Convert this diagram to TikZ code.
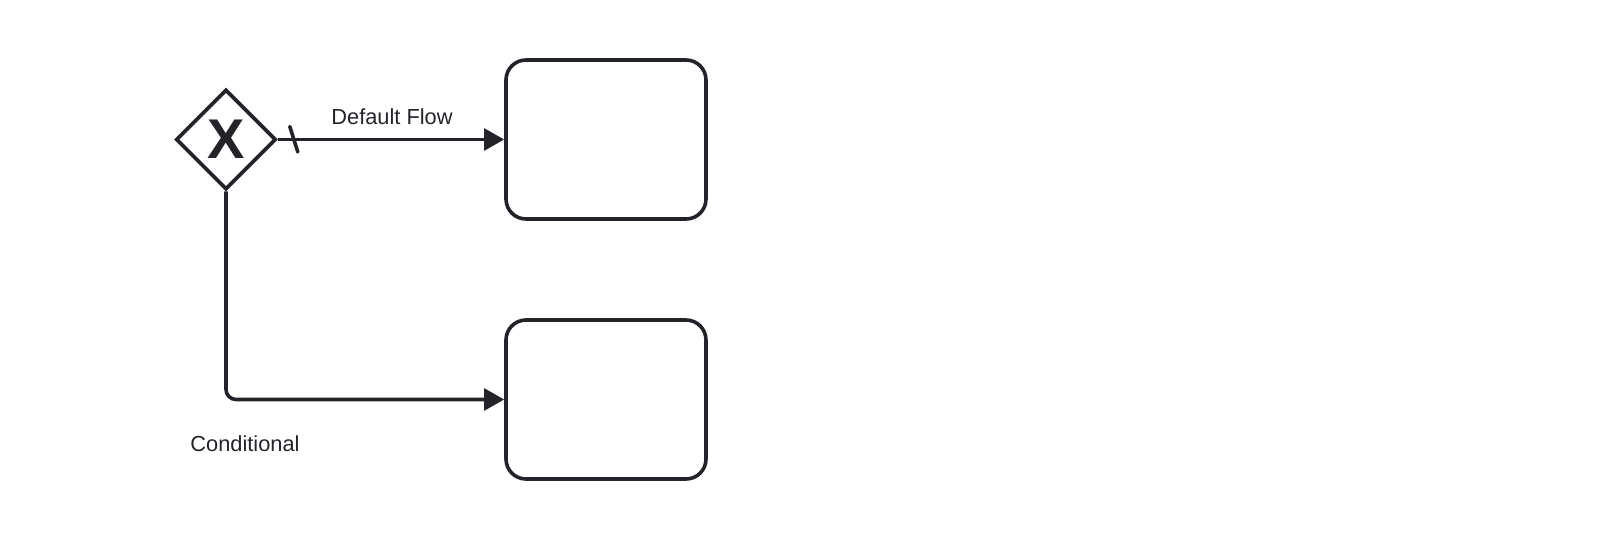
\documentclass[tikz,border=0pt]{standalone}
\usepackage{fontspec}
\setmainfont{Liberation Sans}
\usetikzlibrary{calc,arrows.meta,shapes.geometric}
\definecolor{ink}{HTML}{22242A}
\begin{document}
\begin{tikzpicture}[x=0.5pt,y=-0.5pt]
	\tikzset{
	    task box/.style={draw=ink,line width=1.8pt,rounded corners=10pt,
	        minimum width=100pt,minimum height=79.5pt,inner sep=0pt},
	    gateway/.style={draw=ink,line width=1.8pt,diamond,
	        minimum width=50pt,minimum height=50pt,inner sep=0pt},
	    flow/.style={draw=ink,line width=1.8pt,-{Triangle[length=10pt,width=10.8pt]}},
	    flow label/.style={text=ink,inner sep=0pt,font=\fontsize{10.9}{13}\selectfont}
	}
	\useasboundingbox (0,0) rectangle (1600,540);
	% gateway with its marker
	\node[gateway] (gw) at (226,139.5) {};
	\node[text=ink,inner sep=0pt,font=\fontsize{28}{28}\selectfont\bfseries] (gwx) at (gw) {X};
	% the two tasks
	\node[task box] (taska) at (606,139.5) {};
	\node[task box] (taskb) at (606,399.5) {};
	% default flow, slash marker near its start
	\draw[flow] (gw.east) -- (taska.west);
	\draw[ink,line width=1.8pt,line cap=round] ($(gw.east)+(12,-13)$) -- ($(gw.east)+(20,12.5)$);
	\node[flow label] (dlabel) at (392,116.5) {Default Flow};
	% conditional flow
	\draw[flow,rounded corners=5pt] (gw.south) |- (taskb.west);
	\node[flow label] (clabel) at (245,444) {Conditional};
\end{tikzpicture}
\end{document}
